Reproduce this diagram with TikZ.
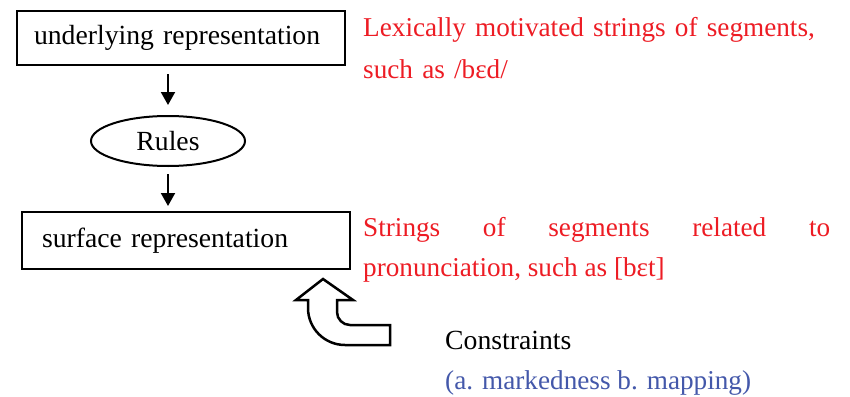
\documentclass[tikz,border=0pt]{standalone}
\usepackage{fontspec}
\setmainfont{Liberation Serif}
\usetikzlibrary{arrows.meta,shapes.geometric}
\definecolor{redtxt}{RGB}{237,28,36}
\definecolor{bluetxt}{RGB}{68,88,170}
\tikzset{
  boxnode/.style={draw, line width=2pt, inner ysep=0pt, align=left},
  ellnode/.style={draw, ellipse, line width=2pt, minimum width=154pt, minimum height=50pt, inner sep=0pt},
  arr/.style={line width=2pt, -{Triangle[width=14pt,length=13pt]}},
  note/.style={inner sep=0pt, anchor=north west, text width=467pt},
}
\begin{document}
\begin{tikzpicture}[x=1pt,y=-1pt]
\useasboundingbox (0,0) rectangle (850,396);
\fontsize{27.7pt}{40pt}\selectfont
\hyphenpenalty=10000 \exhyphenpenalty=10000 \tolerance=10000
\node[boxnode, minimum width=328pt, minimum height=54pt, text width=294pt, inner xsep=17pt] (ur) at (181,38) {underlying representation};
\node[ellnode] (rules) at (168,141) {Rules};
\node[boxnode, minimum width=328pt, minimum height=57pt, text width=288pt, inner xsep=20pt] (sr) at (186,240.5) {surface representation};
\draw[arr, shorten <=8pt, shorten >=10pt] (ur.south -| rules.north) -- (rules.north);
\draw[arr, shorten <=7pt, shorten >=5pt] (rules.south) -- (rules.south |- sr.north);
\node[note, text=redtxt, align=left] (n1) at (363,17) {\fontsize{27.2pt}{42pt}\selectfont\hyphenpenalty=10000 Lexically motivated strings of segments, such as /bɛd/\par};
\node[note, text=redtxt, align=justify] (n2) at (363,217) {\fontsize{27.2pt}{40pt}\selectfont\hyphenpenalty=10000\tolerance=10000 Strings of segments related to pronunciation, such as [bɛt]\par};
\node[inner sep=0pt, anchor=base west] (con) at (445,349) {Constraints};
\node[inner sep=0pt, anchor=base west, text=bluetxt, font=\fontsize{27.2pt}{40pt}\selectfont] (mk) at (445,389) {(a. markedness b. mapping)};
\draw[line width=2.5pt, line join=miter] (323,279) -- (353,300) -- (337,300) -- (337,312)
  arc[start angle=180, end angle=90, radius=13] -- (390,325) -- (390,345) -- (345,345)
  arc[start angle=90, end angle=180, radius=37] -- (308,300) -- (296,300) -- cycle;
\end{tikzpicture}
\end{document}
